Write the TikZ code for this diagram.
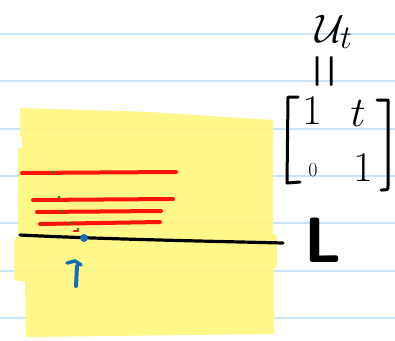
\documentclass[tikz,border=0pt]{standalone}
\usepackage{amsmath}
\begin{document}
\begin{tikzpicture}[x=1pt,y=-1pt,
  ruled/.style={draw=ruleblue,line width=1.2},
  redstroke/.style={draw=penred,line width=4,line cap=round},
  greendot/.style={fill=pengreen,circle,inner sep=0,minimum size=3},
  lbl/.style={inner sep=0,text=black,font=\Huge},
  bracket/.style={line width=3,line cap=round,line join=round}]
\definecolor{ruleblue}{RGB}{200,228,250}
\definecolor{hiyellow}{RGB}{255,247,128}
\definecolor{penred}{RGB}{250,20,10}
\definecolor{pengreen}{RGB}{30,130,40}
\definecolor{penblue}{RGB}{20,110,180}
\useasboundingbox (0,0) rectangle (395,340);
\fill[white] (0,0) rectangle (395,340);
% ruled lines
\foreach \yy in {34,81,129,176,223,271,318}
  \draw[ruled] (0,\yy) -- (395,\yy);
% yellow highlight
\fill[hiyellow,opacity=0.92] (20,108) -- (150,112) -- (273,120) -- (273,234) -- (277,236) -- (277,266) -- (274,268) -- (274,334) -- (26,337) -- (25,282) -- (14,280) -- (14,240) -- (18,236) -- (18,149) -- (22,147) -- (22,138) -- (20,136) -- cycle;
% red strokes
\draw[redstroke] (22,173) -- (176,172);
\draw[redstroke] (33,200) -- (173,199);
\draw[redstroke] (37,212) -- (161,211);
\draw[redstroke] (40,224) -- (160,222);
\draw[draw=penred,line width=2.5,line cap=round] (74,231) -- (78,231);
% green dots
\node[greendot] (g1) at (53,172) {};
\node[greendot] (g2) at (59,197) {};
\node[greendot] (g3) at (62,211) {};
\node[greendot] (g4) at (71,223) {};
\node[greendot] (g5) at (78,229) {};
% black line L
\coordinate (la) at (20,235);
\coordinate (lb) at (283,243);
\draw[line width=3.2,line cap=round] (la) .. controls (100,239) and (200,241) .. (lb);
% blue point and arrow
\node[fill=penblue,circle,inner sep=0,minimum size=8] (p) at (84,238) {};
\coordinate (ab) at (76,286);
\coordinate (at) at (77,266);
\draw[penblue,line width=4,line cap=round,line join=round] (ab) -- (at);
\draw[penblue,line width=3.5,line cap=round,line join=round] (67,263) -- (75,261) -- (81,265);
% right side labels
\node[lbl] (u) at (334,32) {\scalebox{1.6}{$\mathcal{U}_t$}};
\node[lbl,rotate=90] (eq) at (330,71) {\scalebox{1.9}[3.2]{$=$}};
% matrix
\node[lbl] (m11) at (312,111) {\scalebox{1.7}{$1$}};
\node[lbl] (m12) at (358,113) {\scalebox{1.7}{$t$}};
\node[lbl] (m21) at (313,170) {\scalebox{0.8}{$0$}};
\node[lbl] (m22) at (363,168) {\scalebox{1.7}{$1$}};
\draw[bracket] (298,97) -- (288,97) -- (287,183) -- (300,182);
\draw[bracket] (377,100) -- (388,100) -- (388,186) .. controls (388,190) .. (381,190);
\node[lbl,font=\fontsize{64}{66}\selectfont\sffamily\bfseries] (L) at (323,240) {L};
\end{tikzpicture}
\end{document}
